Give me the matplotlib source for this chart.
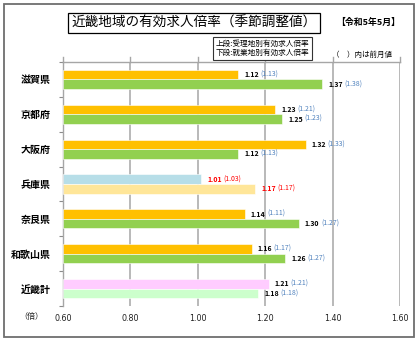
import matplotlib
matplotlib.use("Agg")
import matplotlib.pyplot as plt
from matplotlib.patches import Rectangle
import numpy as np

plt.rcParams['font.family'] = ['Noto Sans CJK JP', 'DejaVu Sans']

# 府県別 有効求人倍率（令和5年5月、季節調整値）
categories = ["滋賀県", "京都府", "大阪府", "兵庫県", "奈良県", "和歌山県", "近畿計"]
juri_now = [1.12, 1.23, 1.32, 1.01, 1.14, 1.16, 1.21]     # 受理地別 当月
juri_prev = [1.13, 1.21, 1.33, 1.03, 1.11, 1.17, 1.21]    # 受理地別 前月
shugyo_now = [1.37, 1.25, 1.12, 1.17, 1.30, 1.26, 1.18]   # 就業地別 当月
shugyo_prev = [1.38, 1.23, 1.13, 1.17, 1.27, 1.27, 1.18]  # 就業地別 前月
xticks = [0.60, 0.80, 1.00, 1.20, 1.40, 1.60]

W, H = 420, 345
fig = plt.figure(figsize=(W / 100, H / 100), dpi=100)
fig.patch.set_facecolor("white")

# 外枠
fig.patches.append(Rectangle((4 / W, 1 - 337 / H), 410 / W, 333 / H,
                             transform=fig.transFigure, fill=False,
                             edgecolor="#6e6e6e", linewidth=1.3))

ax = fig.add_axes([63 / W, 1 - 306 / H, 337 / W, 244 / H])

top_colors = ["#FFC000"] * 7
bot_colors = ["#92D050"] * 7
top_colors[3], bot_colors[3] = "#B7DEE8", "#FFE699"   # 兵庫県
top_colors[6], bot_colors[6] = "#FFCCFF", "#CCFFCC"   # 近畿計

y = np.arange(len(categories))
h = 0.275
base = 0.60
ax.barh(y - h / 2, np.array(juri_now) - base, left=base, height=h,
        color=top_colors, edgecolor="white", linewidth=0.4, zorder=3)
ax.barh(y + h / 2, np.array(shugyo_now) - base, left=base, height=h,
        color=bot_colors, edgecolor="white", linewidth=0.4, zorder=3)

for i in range(len(categories)):
    red = (i == 3)
    vcol = "#FF0000" if red else "black"
    pcol = "#FF0000" if red else "#4F81BD"
    for yy, v, p in [(y[i] - h / 2, juri_now[i], juri_prev[i]),
                     (y[i] + h / 2, shugyo_now[i], shugyo_prev[i])]:
        ax.annotate(f"{v:.2f}", (v, yy), xytext=(6, 0), textcoords="offset pixels",
                    ha="left", va="center", fontsize=5.0, fontweight="bold",
                    color=vcol, zorder=4)
        ax.annotate(f"({p:.2f})", (v, yy), xytext=(22, 0), textcoords="offset pixels",
                    ha="left", va="center", fontsize=5.0, color=pcol, zorder=4)

ax.set_xlim(0.60, 1.60)
ax.set_ylim(len(categories) - 0.5, -0.5)
ax.set_xticks(xticks)
ax.set_xticklabels([f"{t:.2f}" for t in xticks], fontsize=5.8, color="#222222",
                   family=["DejaVu Sans"])
ax.tick_params(axis="x", length=0, pad=6)
ax.grid(axis="x", color="#a6a6a6", linewidth=1.1, zorder=0)

ax.set_yticks(y)
ax.set_yticklabels(categories, fontsize=7.2, fontweight="bold")
ax.tick_params(axis="y", which="major", length=0, pad=9)
ax.set_yticks(np.arange(-0.5, len(categories), 1), minor=True)
ax.tick_params(axis="y", which="minor", length=3, color="#8c8c8c", width=0.8)

for s in ["bottom", "right"]:
    ax.spines[s].set_visible(False)
for s in ["left", "top"]:
    ax.spines[s].set_color("#a6a6a6")
    ax.spines[s].set_linewidth(1.0)

# 上端の目盛
for t in xticks:
    ax.plot([t, t], [-0.5, -0.64], color="#a6a6a6", linewidth=1.0,
            clip_on=False, zorder=1)

fig.text(31 / W, 1 - 317 / H, "（倍）", fontsize=5.8, ha="center", va="center",
         color="#222222")

fig.text(194 / W, 1 - 23 / H, "近畿地域の有効求人倍率（季節調整値）", fontsize=9.8,
         ha="center", va="center",
         bbox=dict(boxstyle="square,pad=0.22", facecolor="white",
                   edgecolor="black", linewidth=0.9))
fig.text(368 / W, 1 - 22 / H, "【令和5年5月】", fontsize=6.4, fontweight="bold",
         ha="center", va="center")
fig.text(262.5 / W, 1 - 48.5 / H, "上段:受理地別有効求人倍率\n下段:就業地別有効求人倍率",
         fontsize=5.5, ha="center", va="center", linespacing=1.3,
         bbox=dict(boxstyle="square,pad=0.3", facecolor="white",
                   edgecolor="#333333", linewidth=0.8))
fig.text(392 / W, 1 - 55 / H, "（　）内は前月値", fontsize=5.4, ha="right",
         va="center")

fig.savefig("out.png", dpi=100, facecolor="white")
